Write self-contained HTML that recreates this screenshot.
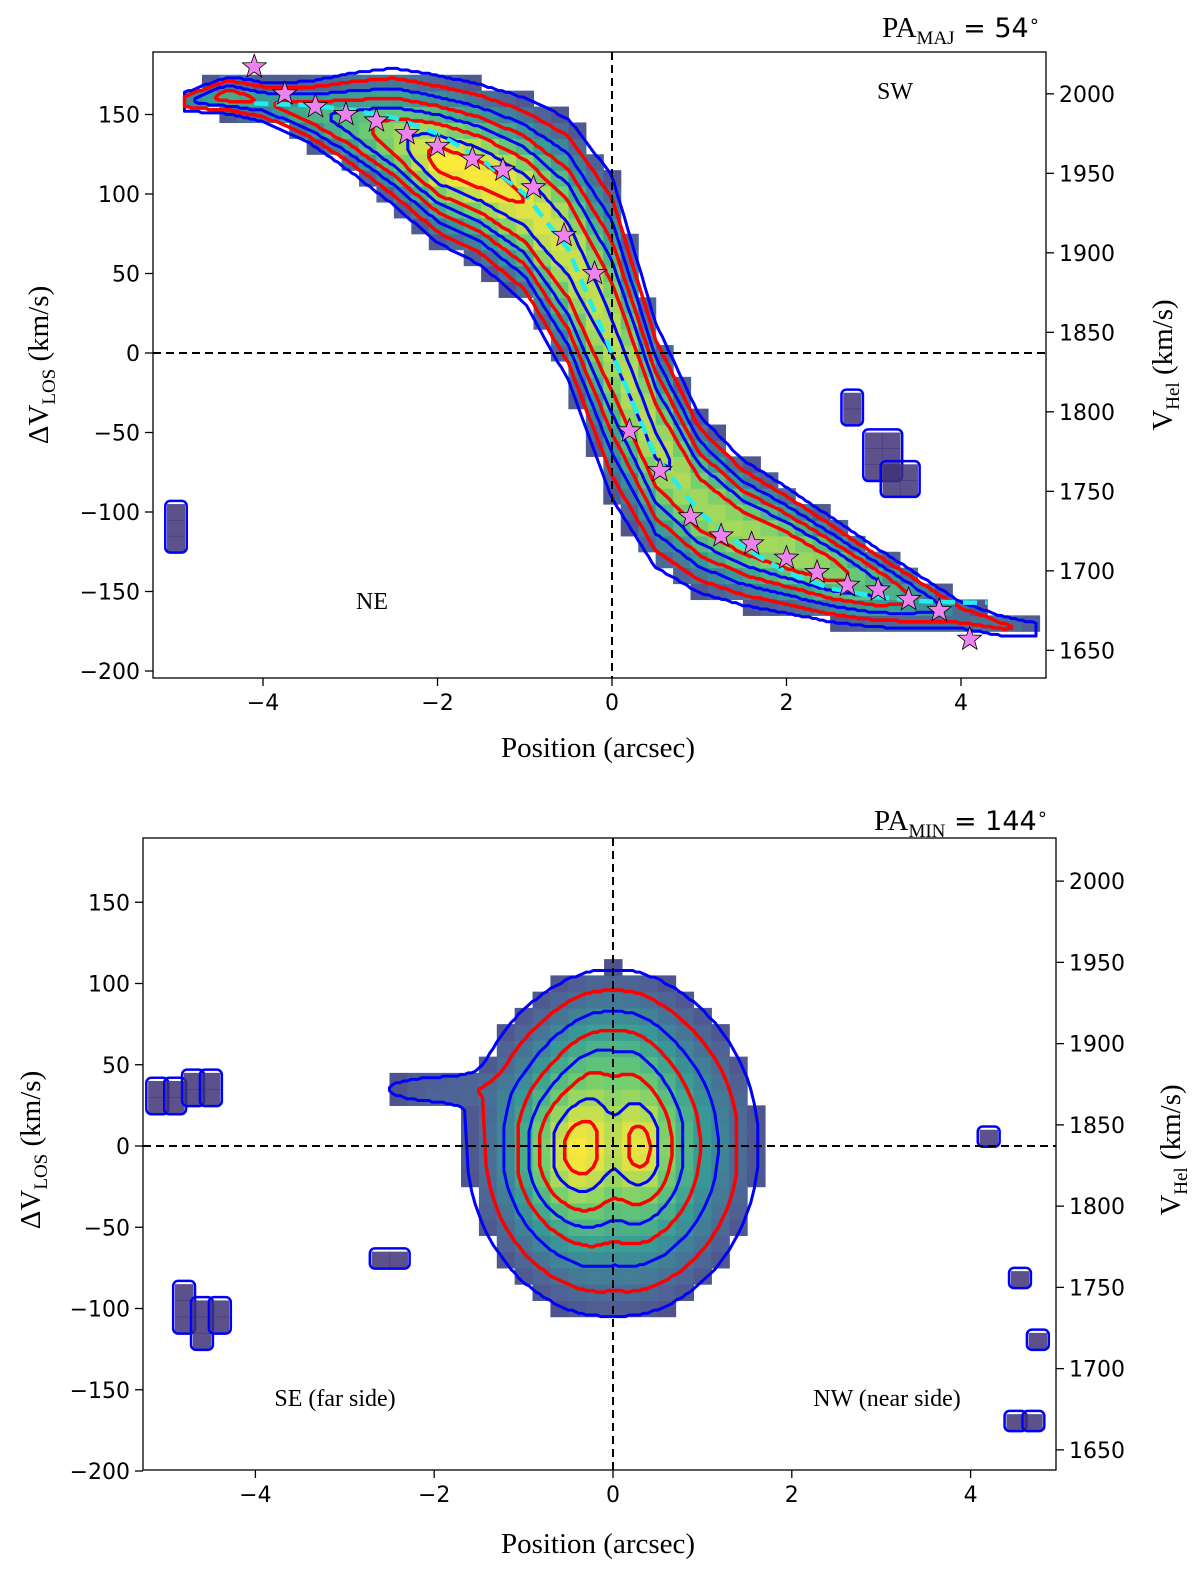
<!DOCTYPE html>
<html><head><meta charset="utf-8"><style>
html,body{margin:0;padding:0;background:#fff;}
svg{display:block;}
.tick{font-family:"DejaVu Sans","Liberation Sans",sans-serif;font-size:22px;fill:#000;}
.lab{font-family:"Liberation Serif","DejaVu Serif",serif;font-size:29px;fill:#000;}
.ann{font-family:"Liberation Serif","DejaVu Serif",serif;font-size:24px;fill:#000;}
</style></head><body>
<svg id="chart" width="1200" height="1584" viewBox="0 0 1200 1584" xmlns="http://www.w3.org/2000/svg">
<g id="toppanel"></g>
<g id="botpanel"></g>
<text class="lab" x="1040" y="37" text-anchor="end">PA<tspan font-size="19" dy="7">MAJ</tspan><tspan dy="-7" font-family="DejaVu Sans, sans-serif" font-size="27"> = 54<tspan font-size="18" dy="-10">∘</tspan></tspan></text>
<text class="lab" x="1048" y="830" text-anchor="end">PA<tspan font-size="19" dy="7">MIN</tspan><tspan dy="-7" font-family="DejaVu Sans, sans-serif" font-size="27"> = 144<tspan font-size="18" dy="-10">∘</tspan></tspan></text>
<text class="lab" x="598" y="757" text-anchor="middle">Position (arcsec)</text>
<text class="lab" x="598" y="1553" text-anchor="middle">Position (arcsec)</text>
<text class="lab" transform="translate(48,365) rotate(-90)" text-anchor="middle">ΔV<tspan font-size="19" dy="7">LOS</tspan><tspan dy="-7"> (km/s)</tspan></text>
<text class="lab" transform="translate(40,1150) rotate(-90)" text-anchor="middle">ΔV<tspan font-size="19" dy="7">LOS</tspan><tspan dy="-7"> (km/s)</tspan></text>
<text class="lab" transform="translate(1172,365) rotate(-90)" text-anchor="middle">V<tspan font-size="19" dy="7">Hel</tspan><tspan dy="-7"> (km/s)</tspan></text>
<text class="lab" transform="translate(1180,1150) rotate(-90)" text-anchor="middle">V<tspan font-size="19" dy="7">Hel</tspan><tspan dy="-7"> (km/s)</tspan></text>
<text class="ann" x="895" y="99" text-anchor="middle">SW</text>
<text class="ann" x="372" y="609" text-anchor="middle">NE</text>
<text class="ann" x="335" y="1406" text-anchor="middle">SE (far side)</text>
<text class="ann" x="887" y="1406" text-anchor="middle">NW (near side)</text>
</svg>
<script>
// ---------- TOP PANEL DATA (major axis) ----------
const bandX    = [-4.9,-4.4,-4.0,-3.5,-3.0,-2.5,-2.0,-1.5,-1.0,-0.5,0.0,0.5,1.0,1.5,2.0,2.5,3.0,3.5,4.0,4.5,4.9];
const bandV    = [158,162,158,152,145,136,122,112,96,65,10,-58,-95,-113,-124,-136,-147,-156,-165,-172,-174];
const bandSig  = [5,7,8,11,17,22,25,27,31,40,50,38,28,23,20,17,14,11,7,6,5];
const bandPeak = [0.22,0.45,0.36,0.45,0.55,0.72,0.95,0.95,0.9,0.85,0.8,0.8,0.75,0.75,0.75,0.7,0.55,0.35,0.22,0.18,0.14];
const starX = [-4.1,-3.75,-3.4,-3.05,-2.7,-2.35,-2.0,-1.6,-1.25,-0.9,-0.55,-0.2,0.2,0.55,0.9,1.25,1.6,2.0,2.35,2.7,3.05,3.4,3.75,4.1];
const starV = [180,163,155,150,146,138,130,122,115,104,74,50,-49,-74,-103,-115,-120,-129,-138,-146,-149,-155,-162,-180];
const modelX = [-4.1,-3.5,-3.0,-2.5,-2.0,-1.5,-1.0,-0.5,0.0,0.5,1.0,1.5,2.0,2.5,3.0,3.5,4.0,4.3];
const modelV = [157,156,153,148,138,122,100,65,0,-65,-100,-122,-138,-148,-153,-156,-157,-157];
const topBlobX = [-5.0,2.75,3.0,3.2];
const topBlobV = [-100,-30,-55,-75];
const topBlobW = [1,1,2,2];
const topBlobH = [3,2,3,2];
const topYTicks = [150,100,50,0,-50,-100,-150,-200];
const topRTicks = [2000,1950,1900,1850,1800,1750,1700,1650];
const xTicks = [-4,-2,0,2,4];
// ---------- BOTTOM PANEL DATA (minor axis) ----------
const compX   = [0.0,-0.5,0.35,0.0,-2.1,0.0];
const compV   = [0,-5,-3,50,35,0];
const compAmp = [0.9,0.3,0.22,0.14,0.16,-0.15];
const compSx  = [0.8,0.35,0.2,0.35,0.45,0.15];
const compSv  = [52,25,20,28,7,40];
const botBlobX = [-5.1,-4.9,-4.7,-4.5,-4.8,-4.6,-4.4,-2.6,4.2,4.55,4.75,4.5,4.7];
const botBlobV = [35,35,40,40,-90,-100,-100,-70,5,-82,-120,-170,-170];
const botBlobW = [1,1,1,1,1,1,1,2,1,1,1,1,1];
const botBlobH = [2,2,2,2,3,3,2,1,1,1,1,1,1];
const botYTicks = [150,100,50,0,-50,-100,-150,-200];
const botRTicks = [2000,1950,1900,1850,1800,1750,1700,1650];
const levels = [0.1,0.17,0.27,0.38,0.5,0.63,0.78,0.9];
const levelColors = ['#0000ff','#ff0000','#0000ff','#ff0000','#0000ff','#ff0000','#0000ff','#ff0000'];
const VOFF = 1837;

const NS='http://www.w3.org/2000/svg';
function mk(tag,attrs,parent){const e=document.createElementNS(NS,tag);for(const k in attrs)e.setAttribute(k,attrs[k]);parent.appendChild(e);return e;}
function interp(xs,ys,x){for(let i=0;i<xs.length-1;i++){if(x>=xs[i]&&x<=xs[i+1]){const t=(x-xs[i])/(xs[i+1]-xs[i]);return ys[i]+t*(ys[i+1]-ys[i]);}}return null;}
const vir=[[68,1,84],[59,82,139],[33,145,140],[94,201,98],[253,231,37]];
function viridis(t){t=Math.max(0,Math.min(1,t));const s=t*4,i=Math.min(3,Math.floor(s)),f=s-i;const a=vir[i],b=vir[i+1];return 'rgb('+[0,1,2].map(k=>Math.round(a[k]+f*(b[k]-a[k]))).join(',')+')';}

function topField(x,v){const p=interp(bandX,bandPeak,x);if(p===null)return 0;const c=interp(bandX,bandV,x),s=interp(bandX,bandSig,x);return p*Math.exp(-(v-c)*(v-c)/(2*s*s));}
function botField(x,v){let I=0;for(let i=0;i<compX.length;i++){const dx=(x-compX[i])/compSx[i],dv=(v-compV[i])/compSv[i];I+=compAmp[i]*Math.exp(-0.5*(dx*dx+dv*dv));}return I;}

function panel(g,cfg){
  const sx=x=>cfg.x0px+cfg.pxPerX*x, sy=v=>cfg.y0px-cfg.pxPerV*v;
  const clipId=cfg.id+'clip';
  const defs=mk('defs',{},g);const cp=mk('clipPath',{id:clipId},defs);
  mk('rect',{x:cfg.L,y:cfg.T,width:cfg.R-cfg.L,height:cfg.B-cfg.T},cp);
  const plot=mk('g',{'clip-path':'url(#'+clipId+')'},g);
  
  
  const hm=mk('g',{opacity:0.9},plot);
  
  
  const cw=cfg.pxPerX*0.2, ch=cfg.pxPerV*10;
  for(let k=-26;k<=25;k++){
    const xc=k*0.2;
    for(let vc=-200;vc<=190;vc+=10){
      const I=cfg.field(xc,vc);
      if(I>0.095*cfg.ls){
        const t=Math.pow(I/cfg.max,0.7);
        const r=mk('rect',{x:sx(xc-0.1),y:sy(vc+5),width:cw+0.6,height:ch+0.6,fill:viridis(t)},hm);
        
        
      }
    }
  }
  for(let i=0;i<cfg.bx.length;i++){
    for(let a=0;a<cfg.bw[i];a++)for(let b=0;b<cfg.bh[i];b++){
      const xc=cfg.bx[i]+a*0.2, vc=cfg.bv[i]-b*10;
      const r=mk('rect',{x:sx(xc-0.1),y:sy(vc+5),width:cw+0.6,height:ch+0.6,fill:viridis(0.15),opacity:0.85},plot);
      
      
    }
    const o=mk('rect',{x:sx(cfg.bx[i]-0.12),y:sy(cfg.bv[i]+7),width:cw*cfg.bw[i]+4,height:ch*cfg.bh[i]+4,rx:5,fill:'none',stroke:'#0000ff','stroke-width':2.5},plot);
    
    
  }
  levels.forEach((lev0,li)=>{
    const lev=lev0*cfg.ls;
    let up=[],lo=[];const runs=[];
    for(let k=0;k<=260;k++){
      const x=-5.3+k*0.04;
      let first=null,last=null;
      for(let v=-210;v<=200;v+=1){if(cfg.field(x,v)>=lev){if(first===null)first=v;last=v;}}
      if(first!==null){up.push([x,last]);lo.push([x,first]);}
      else if(up.length){runs.push([up,lo]);up=[];lo=[];}
    }
    if(up.length)runs.push([up,lo]);
    runs.forEach(([u,l])=>{
      if(u.length<2)return;
      const pts=u.concat(l.slice().reverse()).map(p=>sx(p[0]).toFixed(1)+','+sy(p[1]).toFixed(1));
      const pg=mk('polygon',{points:pts.join(' '),fill:'none',stroke:levelColors[li],'stroke-width':li%2?3.5:3,'stroke-linejoin':'round'},plot);
      
      
    });
  });
  const zl=mk('line',{x1:sx(0),x2:sx(0),y1:cfg.T,y2:cfg.B,stroke:'#000','stroke-width':2,'stroke-dasharray':'8,5'},plot);
  
  
  const zh=mk('line',{x1:cfg.L,x2:cfg.R,y1:sy(0),y2:sy(0),stroke:'#000','stroke-width':2,'stroke-dasharray':'8,5'},plot);
  
  
  if(cfg.stars){
    const pts=modelX.map((x,i)=>sx(x).toFixed(1)+','+sy(modelV[i]).toFixed(1)).join(' ');
    const ml=mk('polyline',{points:pts,fill:'none',stroke:'#22eef0','stroke-width':4.5,'stroke-dasharray':'14,8'},plot);
    
    
    starX.forEach((x,i)=>{
      const cx=sx(x),cy=sy(starV[i]);let d='';
      for(let k=0;k<10;k++){const r=k%2?5.2:12.5,a=-Math.PI/2+k*Math.PI/5;d+=(k?'L':'M')+(cx+r*Math.cos(a)).toFixed(1)+','+(cy+r*Math.sin(a)).toFixed(1);}
      const s=mk('path',{d:d+'Z',fill:'#ee82ee',stroke:'#000','stroke-width':0.8},plot);
      
      
    });
  }
  const fr=mk('rect',{x:cfg.L,y:cfg.T,width:cfg.R-cfg.L,height:cfg.B-cfg.T,fill:'none',stroke:'#000','stroke-width':1.3},g);
  
  
  xTicks.forEach(t=>{
    const x=sx(t);
    const l=mk('line',{x1:x,x2:x,y1:cfg.B,y2:cfg.B+8,stroke:'#000','stroke-width':1.3},g);
    
    
    const tx=mk('text',{x:x,y:cfg.B+32,'text-anchor':'middle',class:'tick'},g);
    tx.textContent=(t<0?'\u2212':'')+Math.abs(t);
    
    
  });
  cfg.yt.forEach(t=>{
    const y=sy(t);
    const l=mk('line',{x1:cfg.L-8,x2:cfg.L,y1:y,y2:y,stroke:'#000','stroke-width':1.3},g);
    
    
    const tx=mk('text',{x:cfg.L-13,y:y+8,'text-anchor':'end',class:'tick'},g);
    tx.textContent=(t<0?'\u2212':'')+Math.abs(t);
    
    
  });
  cfg.rt.forEach(t=>{
    const y=sy(t-VOFF);
    const l=mk('line',{x1:cfg.R,x2:cfg.R+8,y1:y,y2:y,stroke:'#000','stroke-width':1.3},g);
    
    
    const tx=mk('text',{x:cfg.R+13,y:y+8,'text-anchor':'start',class:'tick'},g);
    tx.textContent=t;
    
    
  });
}

const topPanelG=document.getElementById('toppanel'), botPanelG=document.getElementById('botpanel');
panel(topPanelG,{id:'t',L:153,R:1046,T:52,B:678,x0px:612,pxPerX:87.25,y0px:353,pxPerV:1.59,field:topField,max:0.95,ls:1,bx:topBlobX,bv:topBlobV,bw:topBlobW,bh:topBlobH,yt:topYTicks,rt:topRTicks,stars:true});
panel(botPanelG,{id:'b',L:143,R:1056,T:838,B:1470,x0px:613,pxPerX:89.4,y0px:1146,pxPerV:1.625,field:botField,max:1.1,ls:1.12,bx:botBlobX,bv:botBlobV,bw:botBlobW,bh:botBlobH,yt:botYTicks,rt:botRTicks,stars:false});
</script>
</body></html>
